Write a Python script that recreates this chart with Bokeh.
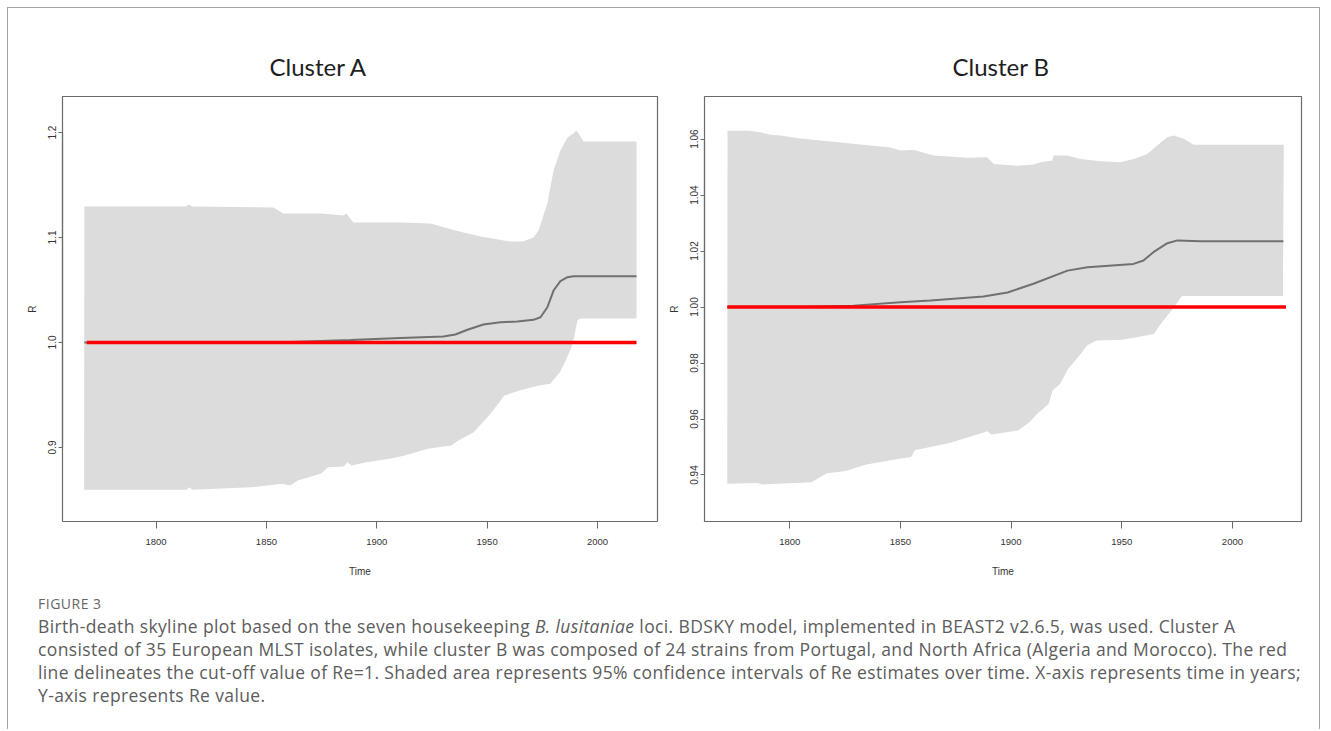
from bokeh.plotting import figure
from bokeh.models import Range1d, FixedTicker, NumeralTickFormatter, Div
from bokeh.layouts import row, column
from bokeh.embed import file_html
from bokeh.resources import INLINE

# ---------------- data ----------------
titles = ["Cluster A", "Cluster B"]
x_label = "Time"
y_label = "R"
x_ticks = [1800, 1850, 1900, 1950, 2000]
a_y_ticks = [0.9, 1.0, 1.1, 1.2]
b_y_ticks = [0.94, 0.96, 0.98, 1.00, 1.02, 1.04, 1.06]

# Cluster A: 95% interval upper / lower bound and median Re
a_upper_year = [1767.5, 1813.7, 1814.6, 1816.5, 1853.2, 1857.7, 1874.5, 1884.9, 1886.2,
                1889.4, 1910.7, 1924.3, 1935.6, 1947.0, 1960.6, 1966.0, 1971.0, 1973.3,
                1975.5, 1977.3, 1980.1, 1983.2, 1986.4, 1989.1, 1990.5, 1992.3, 1993.6, 2017.7]
a_upper = [1.1295, 1.1295, 1.1314, 1.1295, 1.1286, 1.1229, 1.1229, 1.1210, 1.1229,
           1.1143, 1.1143, 1.1133, 1.1067, 1.1010, 1.0962, 1.0962, 1.1000, 1.1067,
           1.1210, 1.1324, 1.1638, 1.1829, 1.1952, 1.1990, 1.2019, 1.1962, 1.1914, 1.1914]
a_lower_year = [1767.4, 1813.9, 1815.0, 1816.5, 1829.5, 1843.4, 1857.2, 1860.7, 1864.2,
                1874.6, 1878.0, 1885.0, 1886.7, 1888.5, 1895.4, 1905.8, 1912.7, 1923.1,
                1933.6, 1937.0, 1943.9, 1947.4, 1950.9, 1954.4, 1957.8, 1964.7, 1973.4,
                1978.7, 1980.4, 1983.0, 1985.6, 1988.2, 1989.6, 1990.9, 1992.3, 2017.7]
a_lower = [0.8597, 0.8597, 0.8622, 0.8597, 0.8610, 0.8622, 0.8654, 0.8638, 0.8686,
           0.8750, 0.8812, 0.8819, 0.8860, 0.8829, 0.8860, 0.8892, 0.8924, 0.8988,
           0.9019, 0.9067, 0.9146, 0.9226, 0.9305, 0.9400, 0.9495, 0.9543, 0.9590,
           0.9607, 0.9654, 0.9717, 0.9829, 0.9952, 1.0067, 1.0210, 1.0229, 1.0229]
a_median_year = [1767.5, 1847.3, 1860.9, 1888.1, 1910.7, 1930.2, 1935.6, 1941.1, 1948.3,
                 1956.0, 1963.7, 1971.0, 1974.2, 1977.3, 1980.1, 1983.2, 1986.4, 1989.1, 2017.7]
a_median = [1.0000, 1.0000, 1.0005, 1.0024, 1.0043, 1.0057, 1.0076, 1.0121, 1.0171,
            1.0193, 1.0200, 1.0216, 1.0241, 1.0336, 1.0495, 1.0584, 1.0622, 1.0631, 1.0631]
a_cutoff_year = [1768.6, 2017.7]

# Cluster B
b_upper_year = [1771.9, 1781.4, 1786.8, 1791.3, 1795.8, 1804.9, 1822.9, 1836.5, 1845.5,
                1850.0, 1856.1, 1865.1, 1880.2, 1889.2, 1892.2, 1902.8, 1910.3, 1913.3,
                1918.6, 1919.3, 1925.3, 1931.3, 1940.4, 1949.4, 1955.4, 1961.5, 1966.0,
                1970.5, 1973.5, 1978.0, 1982.5, 2023.2]
b_upper = [1.0630, 1.0630, 1.0624, 1.0615, 1.0613, 1.0602, 1.0588, 1.0577, 1.0570,
           1.0559, 1.0561, 1.0541, 1.0533, 1.0535, 1.0511, 1.0505, 1.0509, 1.0517,
           1.0523, 1.0541, 1.0541, 1.0529, 1.0521, 1.0517, 1.0529, 1.0547, 1.0577,
           1.0606, 1.0613, 1.0601, 1.0580, 1.0580]
b_lower_year = [1771.8, 1785.6, 1787.4, 1809.8, 1816.8, 1825.4, 1834.1, 1846.2, 1854.8,
                1856.5, 1872.1, 1880.7, 1889.3, 1891.1, 1903.2, 1908.4, 1911.8, 1917.0,
                1918.7, 1922.2, 1925.7, 1930.9, 1934.3, 1938.6, 1949.9, 1956.8, 1964.5,
                1967.1, 1970.6, 1974.1, 1976.7, 1977.5, 2022.8]
b_lower = [0.9369, 0.9371, 0.9366, 0.9374, 0.9406, 0.9414, 0.9437, 0.9454, 0.9464,
           0.9488, 0.9514, 0.9535, 0.9556, 0.9545, 0.9559, 0.9589, 0.9619, 0.9654,
           0.9702, 0.9726, 0.9779, 0.9827, 0.9863, 0.9880, 0.9883, 0.9892, 0.9904,
           0.9934, 0.9970, 1.0005, 1.0035, 1.0039, 1.0039]
b_median_year = [1771.9, 1804.9, 1828.8, 1850.0, 1863.6, 1887.5, 1898.4, 1910.1, 1925.5,
                 1934.5, 1955.3, 1959.8, 1964.3, 1970.6, 1975.2, 1985.5, 2023.0]
b_median = [1.0000, 1.0000, 1.0005, 1.0017, 1.0023, 1.0038, 1.0052, 1.0083, 1.0130,
            1.0142, 1.0154, 1.0166, 1.0196, 1.0228, 1.0238, 1.0235, 1.0235]
b_cutoff_year = [1771.8, 2024.2]

cutoff_value = [1.0, 1.0]

caption_head = "FIGURE 3"
caption_lines = [
    "Birth-death skyline plot based on the seven housekeeping <i>B. lusitaniae</i> loci. BDSKY model, implemented in BEAST2 v2.6.5, was used. Cluster A",
    "consisted of 35 European MLST isolates, while cluster B was composed of 24 strains from Portugal, and North Africa (Algeria and Morocco). The red",
    "line delineates the cut-off value of Re=1. Shaded area represents 95% confidence intervals of Re estimates over time. X-axis represents time in years;",
    "Y-axis represents Re value.",
]

# ---------------- styling ----------------
BAND = "#dcdcdc"
BOX = "#6a6a6a"
FRAME = "#a3a3a3"
TICK_FONT = "Liberation Sans"


def make_panel(title, width, height, xr, yr, borders, title_offset,
               up_x, up_y, lo_x, lo_y, med_x, med_y, cut_x, yticks, yfmt):
    p = figure(width=width, height=height, x_range=Range1d(*xr), y_range=Range1d(*yr),
               output_backend="svg", toolbar_location=None, tools="")
    p.min_border_left, p.min_border_right, p.min_border_top, p.min_border_bottom = borders
    p.background_fill_color = "white"
    p.border_fill_color = "white"
    p.outline_line_color = BOX
    p.outline_line_width = 1.2
    p.grid.visible = False

    p.title.text = title
    p.title.align = "left"
    p.title.offset = title_offset
    p.title.standoff = 31
    p.title.text_font = "Lato"
    p.title.text_font_size = "24px"
    p.title.text_font_style = "normal"
    p.title.text_color = "#1e1e1e"

    band_x = list(up_x) + list(reversed(lo_x))
    band_y = list(up_y) + list(reversed(lo_y))
    p.patch(band_x, band_y, fill_color=BAND, line_color=None)
    p.line(med_x, med_y, line_color="#707070", line_width=2)
    p.line(cut_x, cutoff_value, line_color="#ff0000", line_width=3.5)

    xa = p.xaxis[0]
    xa.ticker = FixedTicker(ticks=x_ticks)
    xa.bounds = (x_ticks[0], x_ticks[-1])
    xa.axis_label = x_label
    xa.axis_line_color = BOX
    xa.axis_line_width = 1.2
    xa.major_tick_line_color = BOX
    xa.major_tick_out = 7
    xa.major_tick_in = 0
    xa.minor_tick_line_color = None
    xa.major_label_standoff = 10
    xa.major_label_text_font = TICK_FONT
    xa.major_label_text_font_size = "9.5px"
    xa.major_label_text_color = "#333333"
    xa.axis_label_standoff = 18
    xa.axis_label_text_font = TICK_FONT
    xa.axis_label_text_font_size = "10px"
    xa.axis_label_text_font_style = "normal"
    xa.axis_label_text_color = "#333333"

    ya = p.yaxis[0]
    ya.ticker = FixedTicker(ticks=yticks)
    ya.bounds = (yticks[0], yticks[-1])
    ya.formatter = NumeralTickFormatter(format=yfmt)
    ya.axis_label = y_label
    ya.axis_line_color = BOX
    ya.axis_line_width = 1.2
    ya.major_tick_line_color = BOX
    ya.major_tick_out = 4
    ya.major_tick_in = 0
    ya.minor_tick_line_color = None
    ya.major_label_orientation = "vertical"
    ya.major_label_standoff = 2
    ya.major_label_text_font = TICK_FONT
    ya.major_label_text_font_size = "10px"
    ya.major_label_text_color = "#333333"
    ya.axis_label_standoff = 8
    ya.axis_label_text_font = TICK_FONT
    ya.axis_label_text_font_size = "10px"
    ya.axis_label_text_font_style = "normal"
    ya.axis_label_text_color = "#333333"
    return p


# both plot frames are aligned by the row: 96 .. 521 px
pa = make_panel(titles[0], 654, 586, (1757.6, 2027.2), (0.82952, 1.2343), (54, 5, 88, 73), 207,
                a_upper_year, a_upper, a_lower_year, a_lower, a_median_year, a_median,
                a_cutoff_year, a_y_ticks, "0.0")
pb = make_panel(titles[1], 657, 586, (1761.5, 2031.2), (0.92339, 1.0752), (42, 18, 88, 73), 248,
                b_upper_year, b_upper, b_lower_year, b_lower, b_median_year, b_median,
                b_cutoff_year, b_y_ticks, "0.00")

caption_html = (
    "<div style='font-family:\"Open Sans\", Lato, sans-serif;color:#5c5c5c;padding-left:25px;margin-top:-5px;'>"
    "<div style='font-size:14px;line-height:20px;letter-spacing:0.5px;color:#666;'>" + caption_head + "</div>"
    "<div style='font-size:17.5px;line-height:23px;letter-spacing:0.37px;white-space:nowrap;margin-top:1px;'>"
    + "<br>".join(caption_lines) + "</div></div>"
)
caption = Div(text=caption_html, width=1301, height=125)

page = column(row(pa, pb), caption,
              styles={"position": "relative", "left": "8px", "top": "8px",
                      "box-shadow": "-1px 0 0 0 %s, 1px 0 0 0 %s, 0 -1px 0 0 %s, -1px -1px 0 0 %s, 1px -1px 0 0 %s"
                      % (FRAME, FRAME, FRAME, FRAME, FRAME)})

open("out.html", "w").write(file_html(page, INLINE))
